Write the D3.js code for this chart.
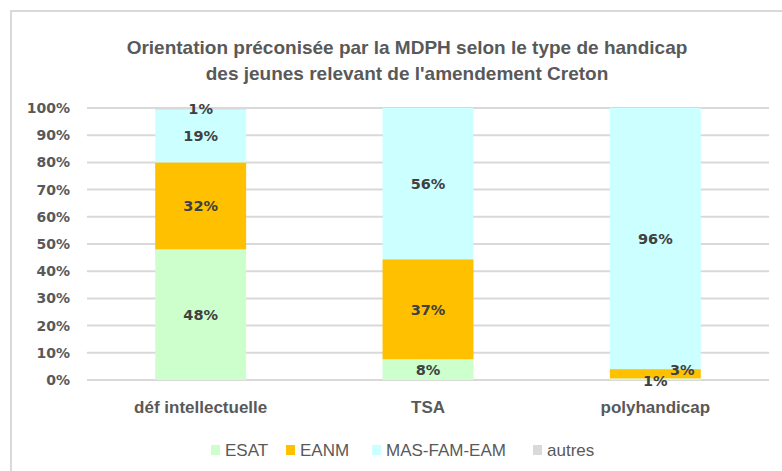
<!DOCTYPE html>
<meta charset="utf-8">
<style>
body { margin: 0; background: #fff; }
svg { display: block; }
.tick text { font: bold 14px "DejaVu Sans", sans-serif; fill: #595959; }
.grid line { stroke: #d9d9d9; stroke-width: 2; }
.cat { font: bold 17px "Liberation Sans Narrow", "Liberation Sans", sans-serif; fill: #595959; }
.title { font: bold 19px "Liberation Sans Narrow", "Liberation Sans", sans-serif; fill: #595959; }
.leg { font: 17px "Liberation Sans Narrow", "Liberation Sans", sans-serif; fill: #595959; }
.lbl { font: bold 14.5px "DejaVu Sans", sans-serif; fill: #404040; }
</style>
<body>
<script src="https://cdn.jsdelivr.net/npm/d3@7"></script>
<script>
// values, in %
var categories = ["déf intellectuelle", "TSA", "polyhandicap"];
var seriesNames = ["ESAT", "EANM", "MAS-FAM-EAM", "autres"];
var colors = ["#ccffcc", "#ffc000", "#ccffff", "#d9d9d9"];
var esat = [48, 7.6, 0.6];
var eanm = [32, 36.8, 3.4];
var mas = [19.4, 55.6, 96];
var autres = [0.6, 0, 0];
var yTicks = [0, 10, 20, 30, 40, 50, 60, 70, 80, 90, 100];
var titleLines = ["Orientation préconisée par la MDPH selon le type de handicap",
                  "des jeunes relevant de l'amendement Creton"];

var W = 782, H = 471;
var margin = {top: 108, right: 13, bottom: 91, left: 87},
    width = W - margin.left - margin.right,
    height = H - margin.top - margin.bottom;

var svg = d3.select("body").append("svg")
    .attr("width", W)
    .attr("height", H);

// chart frame (cut off on the right and bottom)
svg.append("rect")
    .attr("x", 11).attr("y", 11)
    .attr("width", W).attr("height", H)
    .attr("fill", "#fff")
    .attr("stroke", "#d9d9d9")
    .attr("stroke-width", 2);

svg.selectAll(".title")
    .data(titleLines)
  .enter().append("text")
    .attr("class", "title")
    .attr("x", 407)
    .attr("y", function(d, i) { return 54 + i * 26; })
    .attr("text-anchor", "middle")
    .text(function(d) { return d; });

var g = svg.append("g")
    .attr("transform", "translate(" + margin.left + "," + margin.top + ")");

var x = d3.scaleBand()
    .domain(categories)
    .range([0, width])
    .paddingInner(0.6)
    .paddingOuter(0.3);

var y = d3.scaleLinear()
    .domain([0, 100])
    .range([height, 0]);

g.append("g")
    .attr("class", "grid")
    .selectAll("line")
    .data(yTicks)
  .enter().append("line")
    .attr("x1", 0).attr("x2", width)
    .attr("y1", function(d) { return y(d); })
    .attr("y2", function(d) { return y(d); });

var yAxis = g.append("g")
    .call(d3.axisLeft(y).tickValues(yTicks).tickSize(0).tickPadding(17)
      .tickFormat(function(d) { return d + "%"; }));
yAxis.select(".domain").remove();

var table = categories.map(function(c, i) {
  return {cat: c, "ESAT": esat[i], "EANM": eanm[i], "MAS-FAM-EAM": mas[i], "autres": autres[i]};
});
var stack = d3.stack().keys(seriesNames)(table);

var layers = g.selectAll(".layer")
    .data(stack)
  .enter().append("g")
    .attr("fill", function(d, i) { return colors[i]; });

layers.selectAll("rect")
    .data(function(d) { return d; })
  .enter().append("rect")
    .attr("x", function(d) { return x(d.data.cat); })
    .attr("width", x.bandwidth())
    .attr("y", function(d) { return y(d[1]); })
    .attr("height", function(d) { return y(d[0]) - y(d[1]); });

// label nudges for the small polyhandicap segments, as placed in the original
function nudge(key, cat) {
  if (cat === "polyhandicap" && key === "ESAT") return [0, 2];
  if (cat === "polyhandicap" && key === "EANM") return [27, -4];
  return [0, 0];
}

stack.forEach(function(layer) {
  layer.forEach(function(d) {
    var v = d[1] - d[0];
    if (v <= 0) return;
    var off = nudge(layer.key, d.data.cat);
    g.append("text")
      .attr("class", "lbl")
      .attr("x", x(d.data.cat) + x.bandwidth() / 2 + off[0])
      .attr("y", y((d[0] + d[1]) / 2) + off[1])
      .attr("dy", "0.36em")
      .attr("text-anchor", "middle")
      .text(Math.round(v) + "%");
  });
});

g.selectAll(".cat")
    .data(categories)
  .enter().append("text")
    .attr("class", "cat")
    .attr("x", function(d) { return x(d) + x.bandwidth() / 2; })
    .attr("y", height + 33)
    .attr("text-anchor", "middle")
    .text(function(d) { return d; });

// legend
var legX = [211, 286, 372, 533];
var leg = svg.selectAll(".legitem")
    .data(seriesNames)
  .enter().append("g")
    .attr("transform", function(d, i) { return "translate(" + legX[i] + ",445)"; });
leg.append("rect")
    .attr("width", 9).attr("height", 10)
    .attr("fill", function(d, i) { return colors[i]; });
leg.append("text")
    .attr("class", "leg")
    .attr("x", 14).attr("y", 11)
    .text(function(d) { return d; });
</script>
</body>
